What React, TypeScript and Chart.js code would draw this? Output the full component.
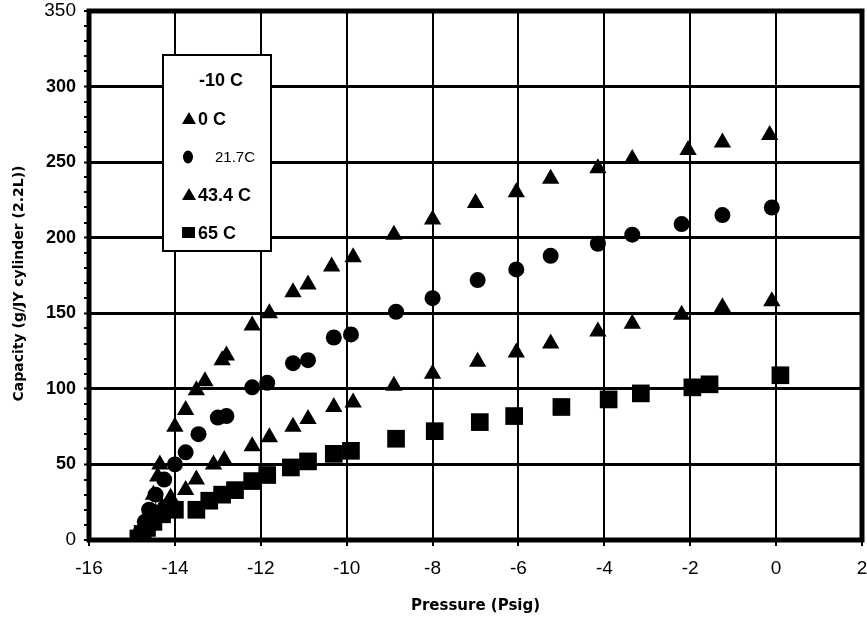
import React, { useEffect, useRef } from "react";
import { Chart, registerables } from "chart.js";

Chart.register(...registerables);

const SERIES_NAMES = ["-10 C", "0 C", "21.7C", "43.4 C", "65 C"];

const pressureM10C: number[] = [];
const capacityM10C: number[] = [];

const pressure0C = [-14.8, -14.75, -14.7, -14.6, -14.5, -14.4, -14.35, -14.0, -13.75, -13.5, -13.3, -12.9, -12.8, -12.2, -11.8, -11.25, -10.9, -10.35, -9.85, -8.9, -8.0, -7.0, -6.05, -5.25, -4.15, -3.35, -2.05, -1.25, -0.15];
const capacity0C = [0, 2, 8, 18, 30, 42, 50, 75, 86, 99, 105, 119, 122, 142, 150, 164, 169, 181, 187, 202, 212, 223, 230, 239, 246, 252, 258, 263, 268];

const pressure21C = [-14.85, -14.8, -14.7, -14.6, -14.45, -14.25, -14.0, -13.75, -13.45, -13.0, -12.8, -12.2, -11.85, -11.25, -10.9, -10.3, -9.9, -8.85, -8.0, -6.95, -6.05, -5.25, -4.15, -3.35, -2.2, -1.25, -0.1];
const capacity21C = [1, 5, 12, 20, 30, 40, 50, 58, 70, 81, 82, 101, 104, 117, 119, 134, 136, 151, 160, 172, 179, 188, 196, 202, 209, 215, 220];

const pressure43C = [-14.9, -14.8, -14.7, -14.6, -14.45, -14.3, -14.1, -13.75, -13.5, -13.1, -12.85, -12.2, -11.8, -11.25, -10.9, -10.3, -9.85, -8.9, -8.0, -6.95, -6.05, -5.25, -4.15, -3.35, -2.2, -1.25, -0.1];
const capacity43C = [0, 2, 7, 12, 18, 22, 28, 33, 40, 50, 53, 62, 68, 75, 80, 88, 91, 102, 110, 118, 124, 130, 138, 143, 149, 154, 158];

const pressure65C = [-14.85, -14.75, -14.65, -14.5, -14.3, -14.0, -13.5, -13.2, -12.9, -12.6, -12.2, -11.85, -11.3, -10.9, -10.3, -9.9, -8.85, -7.95, -6.9, -6.1, -5.0, -3.9, -3.15, -1.95, -1.55, 0.1];
const capacity65C = [1, 4, 8, 12, 17, 20, 20, 26, 30, 33, 39, 43, 48, 52, 57, 59, 67, 72, 78, 82, 88, 93, 97, 101, 103, 109];

const X_MIN = -16;
const X_MAX = 2;
const X_STEP = 2;
const Y_MIN = 0;
const Y_MAX = 350;
const Y_MAJOR = 50;
const Y_MINOR = 10;

const X_TITLE = "Pressure (Psig)";
const Y_TITLE = "Capacity (g/JY cylinder (2.2L))";

const toPoints = (xs: number[], ys: number[]) => xs.map((x, i) => ({ x, y: ys[i] }));

const STYLES: (string | false)[] = [false, "triangle", "circle", "triangle", "rect"];
const RADII = [0, 10, 8, 10, 12.5];

const framePlugin = {
  id: "frame",
  beforeDatasetsDraw(chart: any) {
    const { ctx, chartArea: a } = chart;
    ctx.save();
    ctx.strokeStyle = "#000";
    ctx.lineWidth = 5;
    ctx.strokeRect(a.left, a.top, a.right - a.left, a.bottom - a.top);
    ctx.restore();
  },
};

const yTitlePlugin = {
  id: "yTitle",
  afterDraw(chart: any) {
    const { ctx, chartArea: a } = chart;
    ctx.save();
    ctx.translate(19, (a.top + a.bottom) / 2 + 8);
    ctx.rotate(-Math.PI / 2);
    ctx.fillStyle = "#000";
    ctx.textAlign = "center";
    ctx.textBaseline = "middle";
    ctx.font = 'bold 14px "DejaVu Sans", sans-serif';
    ctx.fillText(Y_TITLE, 0, 0);
    ctx.restore();
  },
};

const legendPlugin = {
  id: "boxLegend",
  afterDatasetsDraw(chart: any) {
    const { ctx, chartArea: a } = chart;
    const bx = a.left + 74;
    const by = a.top + 44;
    const bw = 108;
    const bh = 196;
    ctx.save();
    ctx.fillStyle = "#fff";
    ctx.fillRect(bx, by, bw, bh);
    ctx.strokeStyle = "#000";
    ctx.lineWidth = 2;
    ctx.strokeRect(bx, by, bw, bh);
    const rowY = [25, 64, 102, 140, 178];
    const mx = bx + 26;
    ctx.fillStyle = "#000";
    SERIES_NAMES.forEach((name, i) => {
      const cy = by + rowY[i];
      const style = STYLES[i];
      ctx.beginPath();
      if (style === "triangle") {
        ctx.moveTo(mx, cy - 7);
        ctx.lineTo(mx + 7, cy + 5);
        ctx.lineTo(mx - 7, cy + 5);
        ctx.closePath();
        ctx.fill();
      } else if (style === "circle") {
        ctx.ellipse(mx - 1, cy, 5, 6.5, 0, 0, Math.PI * 2);
        ctx.fill();
      } else if (style === "rect") {
        ctx.fillRect(mx - 7, cy - 6, 13, 11);
      }
      ctx.textBaseline = "middle";
      ctx.textAlign = "left";
      if (i === 2) {
        ctx.font = '15px "Liberation Sans Narrow", "Liberation Sans", sans-serif';
        ctx.fillText(name, bx + 52, cy + 1);
      } else {
        ctx.font = 'bold 18px "Liberation Sans", Arial, sans-serif';
        const tx = i === 0 ? bx + 36 : bx + 35;
        ctx.fillText(name, tx, cy + 1);
      }
    });
    ctx.restore();
  },
};

export default function App() {
  const canvasRef = useRef<HTMLCanvasElement | null>(null);

  useEffect(() => {
    const canvas = canvasRef.current;
    if (!canvas) return;
    const xs = [pressureM10C, pressure0C, pressure21C, pressure43C, pressure65C];
    const ys = [capacityM10C, capacity0C, capacity21C, capacity43C, capacity65C];
    const datasets = SERIES_NAMES.map((name, i) => ({
      label: name,
      data: toPoints(xs[i], ys[i]),
      pointStyle: (STYLES[i] || "circle") as any,
      pointRadius: RADII[i],
      pointHoverRadius: RADII[i],
      backgroundColor: "#000",
      borderColor: "#000",
      borderWidth: 0,
      showLine: false,
    }));

    const chart = new Chart(canvas, {
      type: "scatter",
      data: { datasets },
      options: {
        animation: false,
        responsive: true,
        maintainAspectRatio: false,
        layout: { autoPadding: false, padding: { top: 11, right: 5, left: 0, bottom: 0 } },
        plugins: {
          legend: { display: false },
          tooltip: { enabled: false },
        },
        scales: {
          x: {
            type: "linear",
            min: X_MIN,
            max: X_MAX,
            afterFit: (s: any) => {
              s.height = 80;
              s.paddingLeft = 0;
              s.paddingRight = 0;
            },
            ticks: {
              stepSize: X_STEP,
              color: "#000",
              padding: 11,
              font: { family: '"Liberation Sans Narrow", "Liberation Sans", sans-serif', size: 19 },
            },
            grid: {
              color: "#000",
              lineWidth: (c: any) => (c.tick && (c.tick.value === X_MIN || c.tick.value === X_MAX) ? 0 : 2),
              tickColor: "#000",
              tickWidth: 2,
              tickLength: 6,
            },
            border: { display: false },
            title: {
              display: true,
              text: X_TITLE,
              color: "#000",
              font: { family: '"DejaVu Sans", sans-serif', size: 15, weight: "bold" },
              padding: { top: 0, bottom: 5 },
            },
          },
          y: {
            type: "linear",
            min: Y_MIN,
            max: Y_MAX,
            afterFit: (s: any) => {
              s.width = 89;
              s.paddingTop = 0;
              s.paddingBottom = 0;
            },
            ticks: {
              stepSize: Y_MINOR,
              autoSkip: false,
              color: "#000",
              padding: 8,
              callback: (v: any) => (Number(v) % Y_MAJOR === 0 ? String(v) : ""),
              font: (c: any) => {
                const v = c.tick ? c.tick.value : 0;
                if (v === Y_MIN || v === Y_MAX) {
                  return { family: '"Liberation Sans Narrow", "Liberation Sans", sans-serif', size: 19, weight: "normal" };
                }
                return { family: '"Liberation Sans", Arial, sans-serif', size: 18, weight: "bold" };
              },
            },
            grid: {
              color: "#000",
              lineWidth: (c: any) => {
                const v = c.tick ? c.tick.value : 0;
                if (v === Y_MIN || v === Y_MAX) return 0;
                return v % Y_MAJOR === 0 ? 3 : 0;
              },
              tickColor: "#000",
              tickWidth: 2,
              tickLength: 5,
            },
            border: { display: false },
            title: { display: false },
          },
        },
      },
      plugins: [framePlugin, legendPlugin, yTitlePlugin],
    });
    return () => chart.destroy();
  }, []);

  return (
    <div style={{ position: "absolute", left: 0, top: 0, width: 867, height: 620, background: "#fff" }}>
      <canvas ref={canvasRef} />
    </div>
  );
}
